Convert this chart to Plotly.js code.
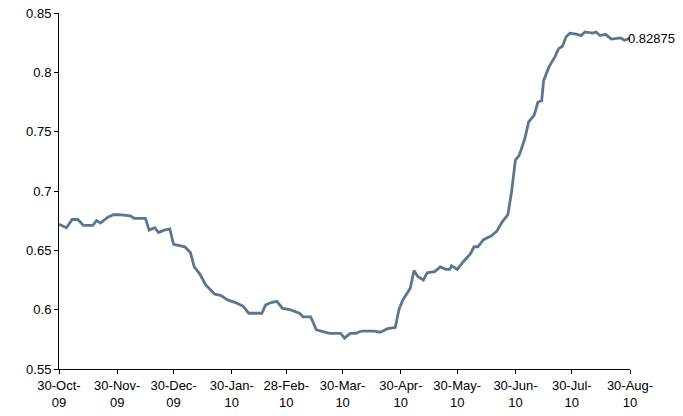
<!DOCTYPE html>
<html>
<head>
<script src="https://cdn.plot.ly/plotly-3.0.1.min.js"></script>
<style>body{margin:0}#myDiv{width:683px;height:416px}</style>
</head>
<body>
<div id="myDiv"></div>
<script>
// days since 30-Oct-2009
var days = [0,4,7,10,13,18,20,22,26,29,32,38,40,46,48,51,53,56,59,61,67,70,72,75,78,80,83,86,90,94,98,101,108,110,113,116,119,123,128,130,134,137,144,150,152,155,158,161,168,171,175,179,181,183,185,187,189,191,194,196,200,203,206,208,209,212,215,219,221,223,226,230,233,236,239,241,243,245,248,250,253,255,257,258,261,264,266,268,270,272,276,278,280,284,286,288,291,294,299,301,304];
var values = [0.672,0.669,0.676,0.676,0.671,0.671,0.675,0.673,0.678,0.680,0.680,0.679,0.677,0.677,0.667,0.669,0.665,0.667,0.668,0.655,0.653,0.648,0.636,0.630,0.621,0.618,0.613,0.612,0.608,0.606,0.603,0.597,0.597,0.604,0.606,0.607,0.601,0.600,0.597,0.594,0.594,0.583,0.580,0.580,0.576,0.580,0.580,0.582,0.582,0.581,0.584,0.585,0.600,0.608,0.613,0.618,0.633,0.628,0.625,0.631,0.632,0.636,0.634,0.634,0.637,0.634,0.640,0.647,0.653,0.653,0.659,0.662,0.666,0.674,0.680,0.700,0.726,0.730,0.744,0.758,0.764,0.775,0.776,0.793,0.805,0.813,0.820,0.822,0.830,0.833,0.832,0.831,0.834,0.833,0.834,0.831,0.832,0.828,0.829,0.827,0.82875];
var tickDates = ['2009-10-30','2009-11-30','2009-12-30','2010-01-30','2010-02-28','2010-03-30','2010-04-30','2010-05-30','2010-06-30','2010-07-30','2010-08-30'];
var tickLabels = ['30-Oct-<br>09','30-Nov-<br>09','30-Dec-<br>09','30-Jan-<br>10','28-Feb-<br>10','30-Mar-<br>10','30-Apr-<br>10','30-May-<br>10','30-Jun-<br>10','30-Jul-<br>10','30-Aug-<br>10'];
var lastLabel = '0.82875';

var start = Date.UTC(2009, 9, 30);
var x = days.map(function (d) {
  return new Date(start + d * 86400000).toISOString().slice(0, 10);
});

var trace = {
  x: x, y: values, type: 'scatter', mode: 'lines',
  line: {color: '#5b7790', width: 2.8}
};
var layout = {
  width: 683, height: 416,
  margin: {l: 59, r: 53, t: 13, b: 47},
  paper_bgcolor: '#fff', plot_bgcolor: '#fff',
  font: {family: 'Liberation Sans, Arial', size: 13, color: '#000'},
  showlegend: false,
  xaxis: {
    type: 'date', range: ['2009-10-30', '2010-08-30'],
    tickvals: tickDates, ticktext: tickLabels,
    showgrid: false, zeroline: false, showline: true, linecolor: '#000', linewidth: 1,
    ticks: 'outside', ticklen: 4, tickcolor: '#000'
  },
  yaxis: {
    range: [0.55, 0.85], dtick: 0.05,
    showgrid: false, zeroline: false, showline: true, linecolor: '#000', linewidth: 1,
    ticks: 'outside', ticklen: 4, tickcolor: '#000'
  },
  annotations: [{
    x: x[x.length - 1], y: values[values.length - 1], text: lastLabel,
    showarrow: false, xanchor: 'left', xshift: -4, font: {size: 13}
  }]
};
Plotly.newPlot('myDiv', [trace], layout, {displayModeBar: false});
</script>
</body>
</html>
